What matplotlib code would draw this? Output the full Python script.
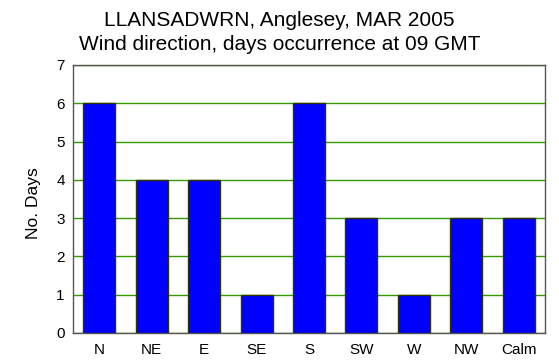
import matplotlib
matplotlib.use("Agg")
import matplotlib.pyplot as plt
import numpy as np

plt.rcParams['font.family'] = ['Liberation Sans', 'DejaVu Sans']

# wind direction counts
direcciones = ['N', 'NE', 'E', 'SE', 'S', 'SW', 'W', 'NW', 'Calm']
dias = [6, 4, 4, 1, 6, 3, 1, 3, 3]

fig = plt.figure(figsize=(5.59, 3.63), dpi=100)
ax = fig.add_axes([73 / 559, 1 - 333 / 363, 472 / 559, 268 / 363])

x = np.arange(len(direcciones))
ax.bar(x, dias, width=0.61, color='#0000ff', edgecolor='#333300', linewidth=1, zorder=3)

ax.set_xlim(-0.5, len(direcciones) - 0.5)
ax.set_ylim(0, 7)
ax.set_yticks(range(0, 8))
ax.set_xticks(x)
ax.set_xticklabels(direcciones)
ax.tick_params(axis='both', length=0, labelsize=11)
ax.tick_params(axis='y', pad=6)
ax.tick_params(axis='x', pad=7)
ax.yaxis.grid(True, color='#339900', linewidth=1, zorder=0)
ax.set_ylabel('No. Days', fontsize=12.5)
# place the label like the original
ax.yaxis.set_label_coords(-(73 - 41) / 472, 0.485)

for s in ax.spines.values():
    s.set_color('#555555')
    s.set_linewidth(1)

fig.text(0.5, 1 - 20 / 363, 'LLANSADWRN, Anglesey, MAR 2005', ha='center', va='center', fontsize=15)
fig.text(0.5, 1 - 45 / 363, 'Wind direction, days occurrence at 09 GMT', ha='center', va='center', fontsize=15)

fig.savefig('out.png', dpi=100)
